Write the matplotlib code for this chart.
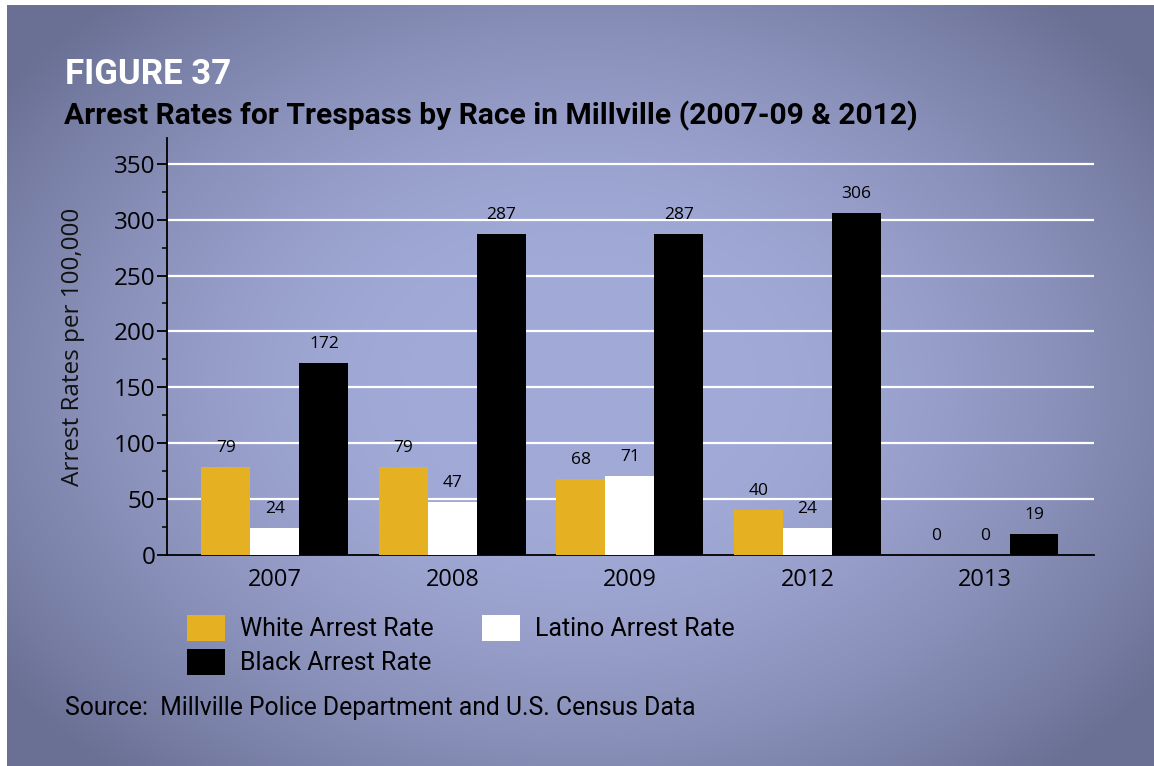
import numpy as np
import matplotlib
matplotlib.use("Agg")
import matplotlib.pyplot as plt
from matplotlib.ticker import MultipleLocator

years = ["2007", "2008", "2009", "2012", "2013"]
white_rate = [79, 79, 68, 40, 0]
latino_rate = [24, 47, 71, 24, 0]
black_rate = [172, 287, 287, 306, 19]
series_names = ["White Arrest Rate", "Latino Arrest Rate", "Black Arrest Rate"]
series_colors = ["#e5b021", "#ffffff", "#000000"]

W, H = 1154, 766
fig = plt.figure(figsize=(W / 100, H / 100), dpi=100)
fig.patch.set_facecolor("white")

# vignette background panel
bg = fig.add_axes([7 / W, 0, 1 - 7 / W, 1 - 5 / H], zorder=-10)
gx, gy = np.meshgrid(np.linspace(0, 1, 400), np.linspace(0, 1, 300))
r = np.sqrt(((gx - 0.50) / 0.62) ** 2 + ((gy - 0.50) / 0.68) ** 2)
t = np.clip((r - 0.25) / 0.75, 0, 1) ** 1.5
inner = np.array([161, 169, 214]) / 255
outer = np.array([106, 112, 148]) / 255
img = inner[None, None, :] * (1 - t[..., None]) + outer[None, None, :] * t[..., None]
bg.imshow(img, aspect="auto", extent=[0, 1, 0, 1], interpolation="bilinear")
bg.set_axis_off()

# main chart axes
left, right, top, bottom = 167, 1094, 138, 555
ax = fig.add_axes([left / W, 1 - bottom / H, (right - left) / W, (bottom - top) / H])
ax.patch.set_alpha(0)

x = np.arange(len(years))
bw = 0.276
tick_font = "Open Sans"
for k, (vals, name, col) in enumerate(zip([white_rate, latino_rate, black_rate], series_names, series_colors)):
    bars = ax.bar(x + (k - 1) * bw, vals, width=bw, color=col, label=name, zorder=3)
    for rect, v in zip(bars, vals):
        ax.annotate(str(v), (rect.get_x() + rect.get_width() / 2, v),
                    xytext=(0, 8), textcoords="offset points", ha="center", va="bottom",
                    fontsize=12.5, family=tick_font, color="black", zorder=4)

ax.set_xlim(-0.608, 4.614)
ax.set_ylim(0, 373)
ax.yaxis.set_minor_locator(MultipleLocator(25))
ax.set_yticks(np.arange(0, 351, 50))
for yv in range(50, 351, 50):
    ax.axhline(yv, color="white", lw=1.6, zorder=1)

ax.set_xticks(x)
ax.set_xticklabels(years)
ax.tick_params(axis="x", length=0, pad=9, labelsize=17)
ax.tick_params(axis="y", which="major", length=7.5, width=1.3, pad=1, labelsize=17.5, direction="out")
ax.tick_params(axis="y", which="minor", length=3.5, width=1.1, direction="out")
for lab in ax.get_xticklabels() + ax.get_yticklabels():
    lab.set_family(tick_font)
for s in ["top", "right"]:
    ax.spines[s].set_visible(False)
ax.spines["left"].set_linewidth(1.3)
ax.spines["bottom"].set_linewidth(1.3)

ax.set_ylabel("Arrest Rates per 100,000", fontsize=17.5, family=tick_font, color="#111111")
ax.yaxis.set_label_coords(-0.0885, 0.5)

# titles
head_font = "Roboto"
fig.text(65 / W, 1 - 84 / H, "FIGURE 37", fontsize=25, fontweight="bold",
         family=head_font, color="white", ha="left", va="baseline")
fig.text(64 / W, 1 - 124 / H, "Arrest Rates for Trespass by Race in Millville (2007-09 & 2012)",
         fontsize=21.6, fontweight="bold", family=head_font, color="black", ha="left", va="baseline")

# legend
h, l = ax.get_legend_handles_labels()
order = [0, 2, 1]
leg = fig.legend([h[i] for i in order], [l[i] for i in order], ncol=2,
                 loc="upper left", bbox_to_anchor=(187 / W, 1 - 615 / H),
                 frameon=False, prop={"family": head_font, "size": 18},
                 handlelength=1.52, handleheight=1.223, handletextpad=0.6,
                 columnspacing=1.92, labelspacing=0.3, borderaxespad=0, borderpad=0)

fig.text(65 / W, 1 - 715 / H, "Source:  Millville Police Department and U.S. Census Data",
         fontsize=17.8, family=head_font, color="black", ha="left", va="baseline")

fig.savefig("out.png", dpi=100)
